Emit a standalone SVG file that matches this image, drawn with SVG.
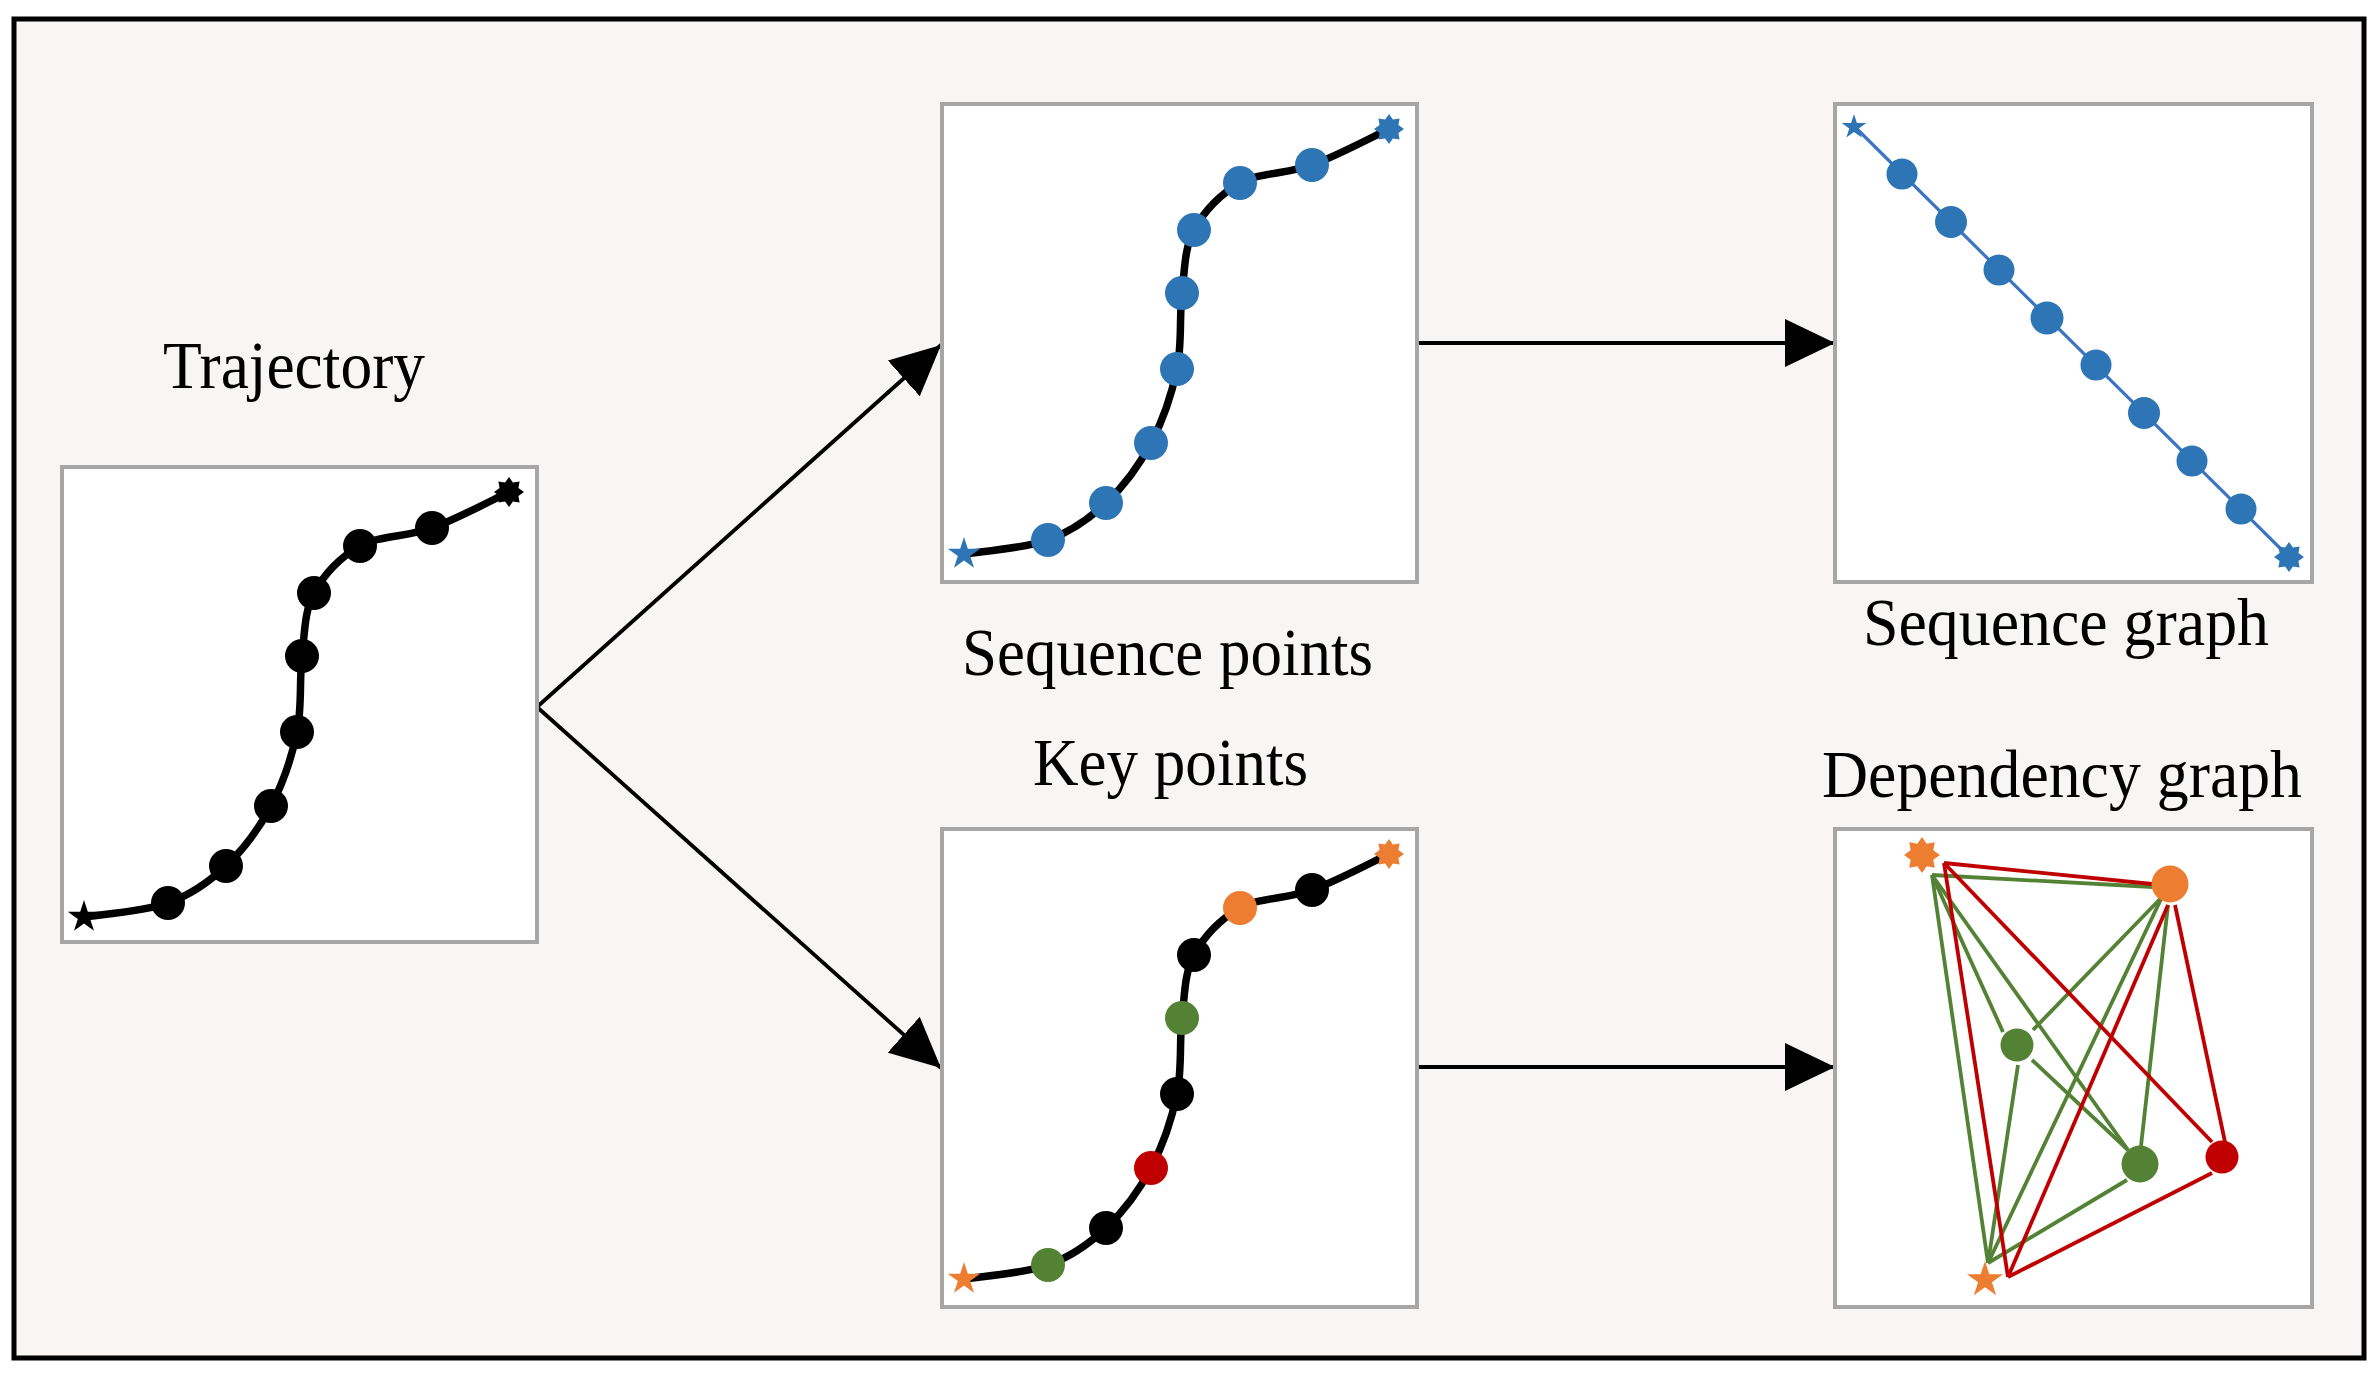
<svg xmlns="http://www.w3.org/2000/svg" xmlns:xlink="http://www.w3.org/1999/xlink" width="2379" height="1379" viewBox="0 0 2379 1379">
<style>
.lbl{font-family:"Liberation Serif","Times New Roman",serif;font-size:67px;fill:#000}
.box{fill:#fff;stroke:#a6a6a6;stroke-width:4}
.conn{stroke:#000;stroke-width:3.8;fill:none}
.eg{stroke:#548235;stroke-width:3.8;fill:none}
.er{stroke:#c00000;stroke-width:3.8;fill:none}
.blk{fill:#000}
.blu{fill:#2e75b6}
.grn{fill:#548235}
.red{fill:#c00000}
.org{fill:#ed7d31}
</style>
<defs>
<path id="curve" d="M22,450 C36,447.7 82.3,444.5 106,436 C129.7,427.5 146.8,415.2 164,399 C181.2,382.8 197.2,361.3 209,339 C220.8,316.7 229.8,290 235,265 C240.2,240 237.2,212.2 240,189 C242.8,165.8 242.3,144.3 252,126 C261.7,107.7 278.3,89.8 298,79 C317.7,68.2 345.2,70 370,61 C394.8,52 434.2,31 447,25" fill="none" stroke="#000" stroke-width="7.5" stroke-linecap="round" stroke-linejoin="round"/>
<path id="star5" d="M0,-1 L0.2245,-0.309 L0.951,-0.309 L0.3633,0.118 L0.5878,0.809 L0,0.382 L-0.5878,0.809 L-0.3633,0.118 L-0.951,-0.309 L-0.2245,-0.309 Z"/>
<path id="star8" d="M0,-1 L0.2603,-0.6286 L0.7071,-0.7071 L0.6286,-0.2603 L1,0 L0.6286,0.2603 L0.7071,0.7071 L0.2603,0.6286 L0,1 L-0.2603,0.6286 L-0.7071,0.7071 L-0.6286,0.2603 L-1,0 L-0.6286,-0.2603 L-0.7071,-0.7071 L-0.2603,-0.6286 Z"/>
<marker id="ah" markerUnits="userSpaceOnUse" markerWidth="50" markerHeight="48" refX="50" refY="24" orient="auto" viewBox="0 0 50 48">
<path d="M0,0 L50,24 L0,48 Z" fill="#000"/>
</marker>
</defs>

<rect x="14" y="19" width="2350" height="1339" fill="#f7f6f4" stroke="#000" stroke-width="5"/>

<g id="connectors">
<line class="conn" x1="537" y1="707" x2="941" y2="345" marker-end="url(#ah)"/>
<line class="conn" x1="537" y1="707" x2="941" y2="1068" marker-end="url(#ah)"/>
<line class="conn" x1="1417" y1="343" x2="1835" y2="343" marker-end="url(#ah)"/>
<line class="conn" x1="1416" y1="1067" x2="1835" y2="1067" marker-end="url(#ah)"/>
</g>

<g id="trajectory">
<text class="lbl" x="163" y="388" textLength="262" lengthAdjust="spacingAndGlyphs">Trajectory</text>
<rect class="box" x="62" y="467" width="475" height="475"/>
<g transform="translate(62,467)">
<use xlink:href="#curve" href="#curve"/>
<use xlink:href="#star5" href="#star5" class="blk" transform="translate(22,450) scale(17)"/>
<circle class="blk" cx="106" cy="436" r="17"/>
<circle class="blk" cx="164" cy="399" r="17"/>
<circle class="blk" cx="209" cy="339" r="17"/>
<circle class="blk" cx="235" cy="265" r="17"/>
<circle class="blk" cx="240" cy="189" r="17"/>
<circle class="blk" cx="252" cy="126" r="17"/>
<circle class="blk" cx="298" cy="79" r="17"/>
<circle class="blk" cx="370" cy="61" r="17"/>
<use xlink:href="#star8" href="#star8" class="blk" transform="translate(447,25) scale(15)"/>
</g>
</g>

<g id="sequence-points">
<rect class="box" x="942" y="104" width="475" height="478"/>
<g transform="translate(942,104)">
<use xlink:href="#curve" href="#curve"/>
<use xlink:href="#star5" href="#star5" class="blu" transform="translate(22,450) scale(17)"/>
<circle class="blu" cx="106" cy="436" r="17"/>
<circle class="blu" cx="164" cy="399" r="17"/>
<circle class="blu" cx="209" cy="339" r="17"/>
<circle class="blu" cx="235" cy="265" r="17"/>
<circle class="blu" cx="240" cy="189" r="17"/>
<circle class="blu" cx="252" cy="126" r="17"/>
<circle class="blu" cx="298" cy="79" r="17"/>
<circle class="blu" cx="370" cy="61" r="17"/>
<use xlink:href="#star8" href="#star8" class="blu" transform="translate(447,25) scale(15)"/>
</g>
<text class="lbl" x="962" y="675" textLength="411" lengthAdjust="spacingAndGlyphs">Sequence points</text>
</g>

<g id="sequence-graph">
<rect class="box" x="1835" y="104" width="477" height="478"/>
<line x1="1854" y1="126" x2="2289" y2="557" stroke="#3b74c2" stroke-width="3.2"/>
<use xlink:href="#star5" href="#star5" class="blu" transform="translate(1854,127) scale(13)"/>
<circle class="blu" cx="1902" cy="174" r="15.5"/>
<circle class="blu" cx="1951" cy="222" r="16"/>
<circle class="blu" cx="1999" cy="270" r="15.5"/>
<circle class="blu" cx="2047" cy="318" r="16.5"/>
<circle class="blu" cx="2096" cy="365" r="15.5"/>
<circle class="blu" cx="2144" cy="413" r="16"/>
<circle class="blu" cx="2192" cy="461" r="15.5"/>
<circle class="blu" cx="2241" cy="509" r="15.5"/>
<use xlink:href="#star8" href="#star8" class="blu" transform="translate(2289,557) scale(15)"/>
<text class="lbl" x="1863" y="645" textLength="406" lengthAdjust="spacingAndGlyphs">Sequence graph</text>
</g>

<g id="key-points">
<text class="lbl" x="1033" y="785" textLength="275" lengthAdjust="spacingAndGlyphs">Key points</text>
<rect class="box" x="942" y="829" width="475" height="478"/>
<g transform="translate(942,829)">
<use xlink:href="#curve" href="#curve"/>
<use xlink:href="#star5" href="#star5" class="org" transform="translate(22,450) scale(17)"/>
<circle class="grn" cx="106" cy="436" r="17"/>
<circle class="blk" cx="164" cy="399" r="17"/>
<circle class="red" cx="209" cy="339" r="17"/>
<circle class="blk" cx="235" cy="265" r="17"/>
<circle class="grn" cx="240" cy="189" r="17"/>
<circle class="blk" cx="252" cy="126" r="17"/>
<circle class="org" cx="298" cy="79" r="17"/>
<circle class="blk" cx="370" cy="61" r="17"/>
<use xlink:href="#star8" href="#star8" class="org" transform="translate(447,25) scale(15)"/>
</g>
</g>

<g id="dependency-graph">
<text class="lbl" x="1822" y="797" textLength="480" lengthAdjust="spacingAndGlyphs">Dependency graph</text>
<rect class="box" x="1835" y="829" width="477" height="478"/>
<g id="dep-edges">
<line class="eg" x1="1932" y1="875" x2="2153" y2="887"/>
<line class="eg" x1="1932" y1="875" x2="2003" y2="1032"/>
<line class="eg" x1="1932" y1="875" x2="2128" y2="1150"/>
<line class="eg" x1="1932" y1="875" x2="1988" y2="1263"/>
<line class="eg" x1="2162" y1="897" x2="2033" y2="1030"/>
<line class="eg" x1="2168" y1="905" x2="2141" y2="1146"/>
<line class="eg" x1="2162" y1="897" x2="1988" y2="1263"/>
<line class="eg" x1="2032" y1="1060" x2="2128" y2="1150"/>
<line class="eg" x1="2018" y1="1065" x2="1988" y2="1263"/>
<line class="eg" x1="2127" y1="1180" x2="1988" y2="1263"/>
<line class="er" x1="1944" y1="863" x2="2152" y2="884"/>
<line class="er" x1="1944" y1="863" x2="2212" y2="1142"/>
<line class="er" x1="1944" y1="863" x2="2008" y2="1277"/>
<line class="er" x1="2175" y1="905" x2="2225" y2="1142"/>
<line class="er" x1="2168" y1="905" x2="2008" y2="1277"/>
<line class="er" x1="2212" y1="1173" x2="2008" y2="1277"/>
</g>
<use xlink:href="#star8" href="#star8" class="org" transform="translate(1922,855) scale(18)"/>
<circle class="org" cx="2170" cy="884" r="18.5"/>
<circle class="grn" cx="2017" cy="1045" r="16.5"/>
<circle class="grn" cx="2140" cy="1164" r="18.5"/>
<circle class="red" cx="2222" cy="1157" r="16.5"/>
<use xlink:href="#star5" href="#star5" class="org" transform="translate(1985,1280) scale(19)"/>
</g>
</svg>
